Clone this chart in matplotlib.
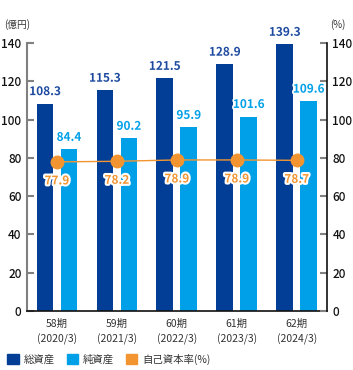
import matplotlib
matplotlib.use("Agg")
import numpy as np
import matplotlib.pyplot as plt
import matplotlib.patheffects as pe
from matplotlib.patches import Patch

plt.rcParams['font.family'] = ['Noto Sans CJK JP', 'DejaVu Sans']

# data
periods = ["58期\n(2020/3)", "59期\n(2021/3)", "60期\n(2022/3)",
           "61期\n(2023/3)", "62期\n(2024/3)"]
total_assets = [108.3, 115.3, 121.5, 128.9, 139.3]   # 総資産 (億円)
net_assets = [84.4, 90.2, 95.9, 101.6, 109.6]        # 純資産 (億円)
equity_ratio = [77.9, 78.2, 78.9, 78.9, 78.7]        # 自己資本率 (%)
yticks = [0, 20, 40, 60, 80, 100, 120, 140]

DARK = "#033e96"
LIGHT = "#00a0e9"
ORANGE = "#f29531"

fig = plt.figure(figsize=(3.53, 3.70), dpi=100)
ax = fig.add_axes([0.0765, 0.1595, 0.849, 0.7243])
ax2 = ax.twinx()

x = np.arange(len(periods))
w = 0.28
ax.bar(x - 0.2, total_assets, w, color=DARK, zorder=2)
ax.bar(x + 0.2, net_assets, w, color=LIGHT, zorder=2)

halo = [pe.withStroke(linewidth=2.5, foreground="white")]
for xi, v in zip(x, total_assets):
    ax.annotate(f"{v:.1f}", (xi - 0.2, v), xytext=(0, 4), textcoords="offset points",
                ha="center", va="bottom", fontsize=8.5, fontweight="bold", color="#1d4aa0",
                path_effects=halo, zorder=5)
for xi, v in zip(x, net_assets):
    ax.annotate(f"{v:.1f}", (xi + 0.2, v), xytext=(0, 4), textcoords="offset points",
                ha="center", va="bottom", fontsize=8.5, fontweight="bold", color=LIGHT,
                path_effects=halo, zorder=5)

ax2.plot(x, equity_ratio, color=ORANGE, lw=1, marker="o", ms=9, zorder=3)
for xi, v in zip(x, equity_ratio):
    ax2.annotate(f"{v:.1f}", (xi, v), xytext=(0, -9), textcoords="offset points",
                 ha="center", va="top", fontsize=8.5, fontweight="bold", color=ORANGE,
                 path_effects=[pe.withStroke(linewidth=3, foreground="white")], zorder=5)

for a in (ax, ax2):
    a.set_ylim(0, 140)
    a.set_yticks(yticks)
    a.set_xlim(-0.5, len(periods) - 0.5)
    a.tick_params(axis="y", direction="in", length=5, width=1.5, color="#808080",
                  labelsize=8.5, labelcolor="#111111", pad=4)
    for lab in a.get_yticklabels():
        lab.set_fontweight("medium")
    a.spines["top"].set_visible(False)
ax.spines["left"].set_color("#808080")
ax.spines["left"].set_linewidth(1.5)
ax.spines["right"].set_visible(False)
ax2.spines["left"].set_visible(False)
ax2.spines["right"].set_color("#111111")
ax2.spines["right"].set_linewidth(1.2)
ax.spines["bottom"].set_color("#111111")
ax.spines["bottom"].set_linewidth(1.2)
ax2.spines["bottom"].set_visible(False)

ax.set_xticks(x)
ax.set_xticklabels(periods, fontsize=7.5, color="#333333", linespacing=1.5)
ax.tick_params(axis="x", length=0, pad=6)

fig.text(0.012, 0.935, "(億円)", fontsize=7, color="#333333", ha="left", va="center")
fig.text(0.935, 0.935, "(%)", fontsize=7, color="#333333", ha="left", va="center")

handles = [Patch(color=DARK, label="総資産"), Patch(color=LIGHT, label="純資産"),
           Patch(color=ORANGE, label="自己資本率(%)")]
fig.legend(handles=handles, loc="lower left", bbox_to_anchor=(-0.006, -0.012), ncol=3,
           frameon=False, fontsize=7.5, handlelength=1.1, handleheight=1.1,
           handletextpad=0.45, columnspacing=1.15, labelcolor="#333333")

fig.savefig("out.png", dpi=100)
